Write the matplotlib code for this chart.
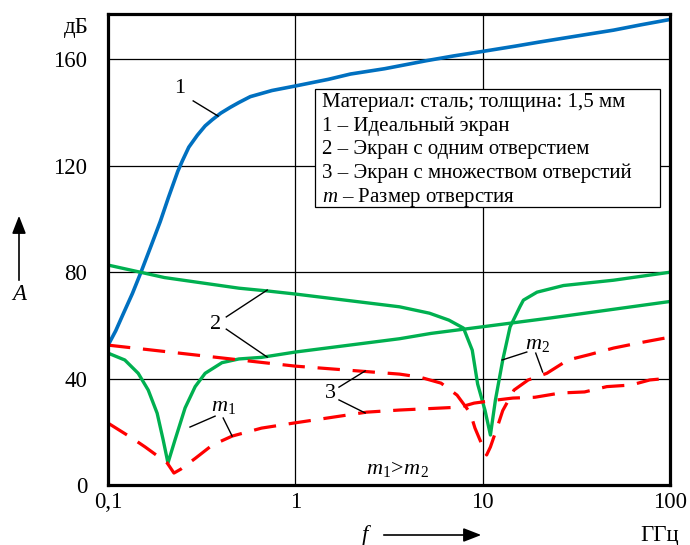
import numpy as np
import matplotlib
matplotlib.use("Agg")
import matplotlib.pyplot as plt
from matplotlib.patches import Rectangle

plt.rcParams['font.family'] = ['Liberation Serif', 'DejaVu Serif']
plt.rcParams['mathtext.fontset'] = 'custom'
plt.rcParams['mathtext.rm'] = 'Liberation Serif'
plt.rcParams['mathtext.it'] = 'Liberation Serif:italic'

# curve 1 - ideal screen
f1 = [0.1, 0.11, 0.12, 0.135, 0.15, 0.17, 0.19, 0.21, 0.236, 0.25, 0.27, 0.3, 0.33, 0.36,
      0.4, 0.45, 0.5, 0.575, 0.75, 1.0, 1.5, 1.97, 3, 5, 7, 10, 15, 20, 30, 50, 70, 100]
a1 = [52.5, 58, 64, 72, 80, 90, 99, 108, 118, 122, 127, 131.5, 135, 137.3,
      139.8, 142, 143.8, 146, 148.3, 150, 152.5, 154.5, 156.5, 159.5, 161.3, 163, 165, 166.5,
      168.5, 171, 173, 175]

# curve 2 - one hole, size m1 (resonance near 0.2 GHz)
f2a = [0.1, 0.123, 0.145, 0.164, 0.183, 0.197, 0.209, 0.228, 0.258, 0.292,
       0.33, 0.406, 0.5, 0.66, 1.0, 3.6, 5.3, 10, 23, 100]
a2a = [49.6, 47, 42, 35.7, 27, 17, 8.3, 17, 29, 37,
       42, 46, 47.4, 48, 50, 55, 57, 59.5, 62.8, 69]

# curve 2 - one hole, size m2 (resonance near 11 GHz)
f2b = [0.1, 0.2, 0.5, 0.7, 1.0, 3.6, 5.2, 6.6, 7.9, 8.8, 9.4, 10.3, 11.0,
       11.7, 12.8, 14.0, 15.8, 16.5, 19.5, 27, 50, 100]
a2b = [82.7, 78, 74, 73, 71.8, 67, 64.6, 62, 59, 50.7, 38, 28, 18.8,
       32, 47, 59.4, 67, 69.5, 72.5, 75, 77, 80]

# curve 3 - many holes, size m1
f3a = [0.1, 0.134, 0.158, 0.207, 0.225, 0.245, 0.292, 0.36, 0.46, 0.66, 0.98,
       2.4, 3.6, 7.6, 9, 12, 14.5, 19, 26, 35, 46, 62, 78, 100]
a3a = [23.3, 17.7, 14.3, 8.3, 4.5, 6, 10, 15, 18.4, 21.4, 23.3,
       27.4, 28.2, 29.3, 30.8, 32, 32.7, 33, 34.6, 35, 37, 37.6, 39.5, 40.2]

# curve 3 - many holes, size m2
f3b = [0.1, 0.68, 1.0, 3.6, 4.6, 6.0, 7.3, 8.6, 9.1, 10.3, 10.5, 11, 12,
       12.8, 14.7, 17.5, 22, 28.5, 37, 50, 68, 100]
a3b = [52.6, 46, 44.7, 41.7, 40.6, 38.3, 33.8, 27, 21.4, 12.4, 11.3, 14.3, 22,
       28, 35.7, 39.5, 42, 47, 49, 51.5, 53.4, 55.6]

xticks = [0.1, 1, 10, 100]
xlabels = ['0,1', '1', '10', '100']
yticks = [0, 40, 80, 120, 160]

legend_lines = ['Материал: сталь; толщина: 1,5 мм',
                '1 – Идеальный экран',
                '2 – Экран с одним отверстием',
                '3 – Экран с множеством отверстий',
                '$m$ – Размер отверстия']

blue = '#0070C0'
green = '#00B050'
red = '#FF0000'

fig = plt.figure(figsize=(6.9, 5.45), dpi=100)
ax = fig.add_axes([0.1565, 0.110, 0.8145, 0.864])
ax.set_xscale('log')
ax.set_xlim(0.1, 100)
ax.set_ylim(0, 177)

ax.plot(f1, a1, color=blue, lw=2.6, zorder=3)
ax.plot(f2a, a2a, color=green, lw=2.4, zorder=3)
ax.plot(f2b, a2b, color=green, lw=2.4, zorder=3)
ax.plot(f3a, a3a, color=red, lw=2.3, dashes=(7, 4), zorder=3)
ax.plot(f3b, a3b, color=red, lw=2.3, dashes=(7, 4), zorder=3)

ax.set_xticks(xticks)
ax.set_xticklabels(xlabels)
ax.xaxis.set_minor_locator(matplotlib.ticker.NullLocator())
ax.set_yticks(yticks)
ax.tick_params(length=0, labelsize=16.5)
ax.tick_params(axis='y', pad=15)
ax.tick_params(axis='x', pad=5)
ax.grid(True, color='black', lw=0.9)
ax.set_axisbelow(True)
for s in ax.spines.values():
    s.set_linewidth(2.3)
    s.set_zorder(5)

# legend box
ax.add_patch(Rectangle((0.368, 0.590), 0.614, 0.251, transform=ax.transAxes,
                       facecolor='white', edgecolor='black', lw=0.9, zorder=4))
for i, t in enumerate(legend_lines):
    ax.text(0.381, 0.813 - i * 0.0505, t, transform=ax.transAxes, fontsize=15,
            va='center', ha='left', zorder=6)

# curve labels with leader lines
lab = dict(fontsize=16, ha='center', va='center', zorder=6)
ax.text(0.240, 149.2, '1', **lab)
ax.plot([0.285, 0.387], [144.4, 138.7], color='black', lw=1, zorder=6)
ax.text(0.373, 60.2, '2', **lab)
ax.plot([0.428, 0.708], [63.2, 73.3], color='black', lw=1, zorder=6)
ax.plot([0.428, 0.708], [58.6, 48.1], color='black', lw=1, zorder=6)
ax.text(1.537, 34.6, '3', **lab)
ax.plot([1.71, 2.36], [36.8, 42.9], color='black', lw=1, zorder=6)
ax.plot([1.71, 2.36], [32, 27.1], color='black', lw=1, zorder=6)
ax.text(0.412, 29.5, r'$m_\mathrm{1}$', **lab)
ax.plot([0.274, 0.373], [21.8, 25.9], color='black', lw=1, zorder=6)
ax.plot([0.412, 0.46], [25.2, 18.4], color='black', lw=1, zorder=6)
ax.text(19.5, 53, r'$m_\mathrm{2}$', **lab)
ax.plot([12.7, 17.2], [47, 50], color='black', lw=1, zorder=6)
ax.plot([19.2, 20.9], [49.6, 42.5], color='black', lw=1, zorder=6)
ax.text(3.5, 6, r'$m_\mathrm{1}\!>\!m_\mathrm{2}$', **lab)

# axis captions
fig.text(89 / 690, 1 - 28 / 545, 'дБ', fontsize=16.5, ha='right', va='center')
fig.text(19 / 690, 1 - 295 / 545, 'A', fontsize=16.5, style='italic', ha='center', va='center')
fig.add_artist(matplotlib.patches.FancyArrowPatch((19 / 690, 1 - 283 / 545), (19 / 690, 1 - 213 / 545),
               transform=fig.transFigure, arrowstyle='-|>,head_length=0.9,head_width=0.35',
               mutation_scale=12, color='black', lw=1.2))
fig.text(365 / 690, 1 - 535 / 545, 'f', fontsize=16.5, style='italic', ha='center', va='center')
fig.add_artist(matplotlib.patches.FancyArrowPatch((381 / 690, 1 - 535 / 545), (484 / 690, 1 - 535 / 545),
               transform=fig.transFigure, arrowstyle='-|>,head_length=0.9,head_width=0.35',
               mutation_scale=12, color='black', lw=1.2))
fig.text(660 / 690, 1 - 535 / 545, 'ГГц', fontsize=16.5, ha='center', va='center')

fig.savefig('out.png', dpi=100)
